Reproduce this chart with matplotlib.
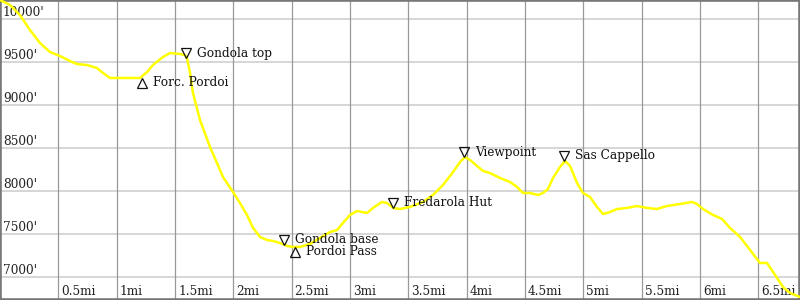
import matplotlib
matplotlib.use("Agg")
import matplotlib.pyplot as plt
from matplotlib.transforms import offset_copy

# Elevation profile (distance in miles, elevation in feet)
dist_mi = [0.000, 0.086, 0.171, 0.257, 0.343, 0.429, 0.514, 0.600, 0.660, 0.746,
           0.831, 0.883, 0.943, 1.003, 1.089, 1.200, 1.260, 1.311, 1.397, 1.457,
           1.543, 1.586, 1.603, 1.629, 1.654, 1.714, 1.800, 1.860, 1.911, 1.997,
           2.057, 2.117, 2.169, 2.229, 2.289, 2.340, 2.400, 2.460, 2.511, 2.571,
           2.657, 2.743, 2.829, 2.889, 2.940, 3.000, 3.060, 3.146, 3.197, 3.274,
           3.317, 3.369, 3.429, 3.514, 3.626, 3.711, 3.797, 3.883, 3.943, 3.986,
           4.029, 4.089, 4.140, 4.200, 4.286, 4.371, 4.431, 4.483, 4.543, 4.611,
           4.654, 4.697, 4.740, 4.800, 4.843, 4.886, 4.946, 4.997, 5.057, 5.117,
           5.169, 5.229, 5.289, 5.374, 5.460, 5.546, 5.631, 5.717, 5.829, 5.931,
           5.974, 6.026, 6.111, 6.189, 6.257, 6.343, 6.429, 6.514, 6.574, 6.626,
           6.711, 6.771, 6.857]
elev_ft = [10221, 10163, 10046, 9872, 9721, 9616, 9570, 9512, 9477, 9466,
           9431, 9373, 9315, 9315, 9315, 9315, 9384, 9466, 9559, 9605,
           9594, 9582, 9547, 9373, 9141, 8827, 8513, 8327, 8165, 7991,
           7863, 7723, 7573, 7468, 7433, 7422, 7398, 7364, 7352, 7352,
           7387, 7457, 7526, 7549, 7631, 7724, 7770, 7747, 7805, 7875,
           7863, 7805, 7793, 7817, 7875, 7956, 8072, 8223, 8339, 8397,
           8362, 8293, 8235, 8211, 8153, 8107, 8049, 7979, 7979, 7956,
           7979, 8026, 8153, 8281, 8351, 8293, 8095, 7979, 7933, 7817,
           7735, 7758, 7793, 7805, 7828, 7805, 7793, 7828, 7851, 7875,
           7851, 7793, 7724, 7677, 7573, 7468, 7317, 7166, 7166, 7062,
           6887, 6818, 6771]

# Waypoints
wp_names = ["Forc. Pordoi", "Gondola top", "Gondola base", "Pordoi Pass",
            "Fredarola Hut", "Viewpoint", "Sas Cappello"]
wp_mi = [1.217, 1.594, 2.434, 2.529, 3.369, 3.977, 4.834]
wp_ft = [9315, 9547, 7375, 7352, 7805, 8397, 8351]
wp_dir = ["up", "down", "down", "up", "down", "down", "down"]

# Axis ticks
x_ticks = [0.5, 1, 1.5, 2, 2.5, 3, 3.5, 4, 4.5, 5, 5.5, 6, 6.5]
x_labels = ["0.5mi", "1mi", "1.5mi", "2mi", "2.5mi", "3mi", "3.5mi", "4mi",
            "4.5mi", "5mi", "5.5mi", "6mi", "6.5mi"]
y_ticks = [7000, 7500, 8000, 8500, 9000, 9500, 10000]
y_labels = ["7000'", "7500'", "8000'", "8500'", "9000'", "9500'", "10000'"]

plt.rcParams['font.family'] = ['DejaVu Serif', 'DejaVu Sans']
FS = 8.7

fig = plt.figure(figsize=(8, 3), dpi=100)
ax = fig.add_axes([0, 0, 1, 1])
ax.set_xlim(0, 6.857)
ax.set_ylim(6736, 10221)
ax.set_xticks([])
ax.set_yticks([])
for s in ax.spines.values():
    s.set_color('#777777')
    s.set_linewidth(2.6)

for yv in y_ticks:
    ax.axhline(yv, color='#cccccc', lw=1.1, zorder=1)
for xv in x_ticks:
    ax.axvline(xv, color='#999999', lw=0.9, zorder=1.5)

for yv, lab in zip(y_ticks, y_labels):
    ax.annotate(lab, xy=(0, yv), xycoords=ax.get_yaxis_transform(),
                xytext=(3, 3), textcoords='offset pixels', va='baseline',
                ha='left', fontsize=FS, color='#222222', zorder=3)
for xv, lab in zip(x_ticks, x_labels):
    ax.annotate(lab, xy=(xv, 0), xycoords=ax.get_xaxis_transform(),
                xytext=(3, 5), textcoords='offset pixels', va='baseline',
                ha='left', fontsize=FS, color='#222222', zorder=3)

ax.plot(dist_mi, elev_ft, color='#ffff00', lw=1.8, zorder=4,
        solid_joinstyle='round', solid_capstyle='round')

for name, xm, yf, d in zip(wp_names, wp_mi, wp_ft, wp_dir):
    dy = 5 if d == "down" else -5
    tr = offset_copy(ax.transData, fig=fig, x=0, y=dy, units='dots')
    ax.plot([xm], [yf], marker='v' if d == "down" else '^', ms=7.4,
            mfc='none', mec='#111111', mew=0.9, transform=tr, zorder=5)
    ax.annotate(name, xy=(xm, yf), xytext=(11, dy), textcoords='offset pixels',
                va='center', ha='left', fontsize=FS, color='#111111', zorder=5)

fig.savefig("out.png", dpi=100)
